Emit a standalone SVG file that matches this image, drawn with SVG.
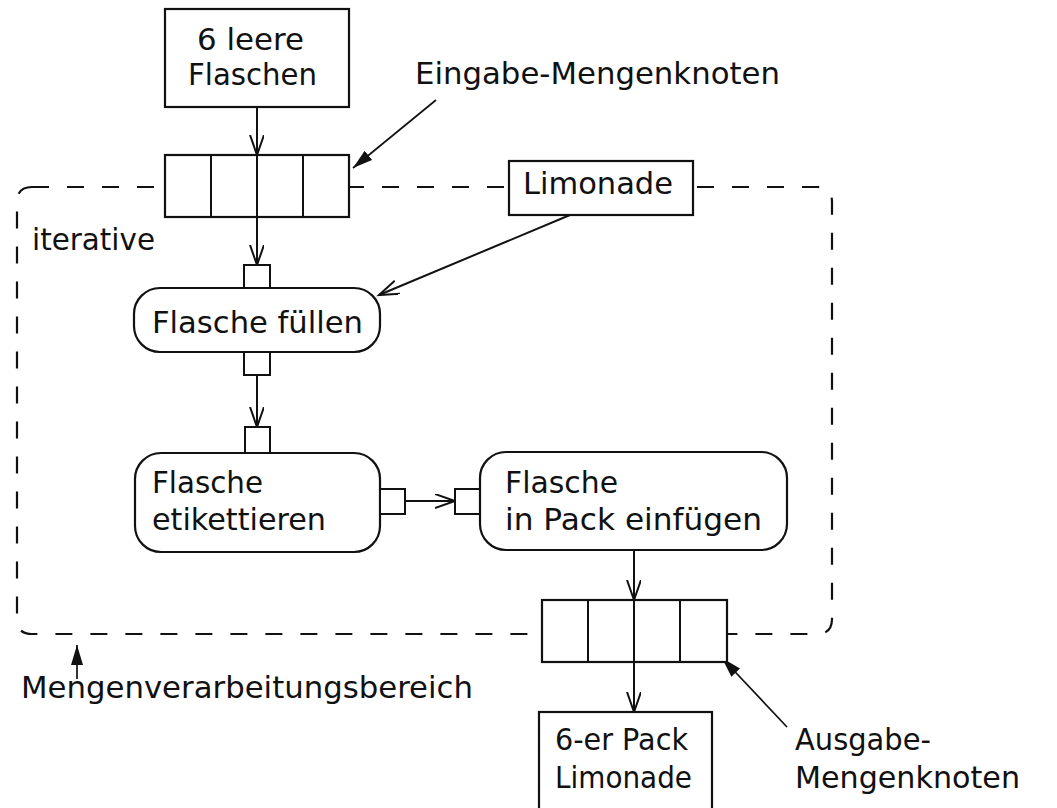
<svg xmlns="http://www.w3.org/2000/svg" width="1057" height="808" viewBox="0 0 1057 808">
  <style>
    text { font-family: "DejaVu Sans", "Liberation Sans", sans-serif; font-size: 31px; fill: #111; }
    .box { fill: #fff; stroke: #111; stroke-width: 2.2; }
    .pin { fill: #fff; stroke: #111; stroke-width: 2; }
    .div { stroke: #111; stroke-width: 2; }
    .flow { fill: none; stroke: #111; stroke-width: 2; marker-end: url(#open); }
    .note { fill: none; stroke: #111; stroke-width: 1.7; marker-end: url(#solid); }
    .region { fill: none; stroke: #111; stroke-width: 2.2; stroke-dasharray: 17 18; }
  </style>
  <defs>
    <marker id="open" markerUnits="userSpaceOnUse" markerWidth="24" markerHeight="16" refX="20" refY="7" orient="auto">
      <path d="M0,0 L20,7 L0,14" fill="none" stroke="#111" stroke-width="2"/>
    </marker>
    <marker id="solid" markerUnits="userSpaceOnUse" markerWidth="22" markerHeight="14" refX="20" refY="6" orient="auto">
      <path d="M0,0 L20,6 L0,12 Z" fill="#111"/>
    </marker>
  </defs>

  <!-- iterative expansion region -->
  <g id="region">
    <path class="region" d="M32,187 H817 Q832,187 832,202 V619 Q832,634 817,634 H32 Q17,634 17,619 V202 Q17,187 32,187 Z"/>
    <text x="32" y="250" textLength="123" lengthAdjust="spacingAndGlyphs">iterative</text>
  </g>

  <!-- connectors -->
  <g id="connectors">
    <path class="flow" d="M257,107 V155"/>
    <path class="flow" d="M257,155 V265"/>
    <path class="flow" d="M257,375 V427"/>
    <path class="flow" d="M405,501 H455"/>
    <path class="flow" d="M634,550 V600"/>
    <path class="flow" d="M634,600 V712"/>
    <path class="flow" d="M570,215 L379,295"/>
    <path class="note" d="M436,100 L353,168"/>
    <path class="note" d="M787,727 L722,658"/>
    <path class="note" d="M77,679 L77,645"/>
  </g>

  <g id="leere-flaschen">
    <rect class="box" x="165" y="9" width="184" height="98"/>
    <text x="197" y="50" textLength="107" lengthAdjust="spacingAndGlyphs">6 leere</text>
    <text x="188" y="85" textLength="129" lengthAdjust="spacingAndGlyphs">Flaschen</text>
  </g>

  <g id="eingabe-knoten">
    <rect class="box" x="165" y="155" width="184" height="62"/>
    <line class="div" x1="211" y1="155" x2="211" y2="217"/>
    <line class="div" x1="257" y1="155" x2="257" y2="217"/>
    <line class="div" x1="303" y1="155" x2="303" y2="217"/>
  </g>

  <g id="limonade">
    <rect class="box" x="509" y="161" width="184" height="54"/>
    <text x="523" y="194" textLength="150" lengthAdjust="spacingAndGlyphs">Limonade</text>
  </g>

  <g id="flasche-fuellen">
    <rect class="pin" x="244" y="265" width="26" height="23"/>
    <rect class="box" x="134" y="288" width="246" height="64" rx="26"/>
    <rect class="pin" x="244" y="352" width="26" height="23"/>
    <text x="152" y="333" textLength="211" lengthAdjust="spacingAndGlyphs">Flasche füllen</text>
  </g>

  <g id="flasche-etikettieren">
    <rect class="pin" x="245" y="427" width="25" height="26"/>
    <rect class="box" x="135" y="453" width="245" height="99" rx="26"/>
    <rect class="pin" x="380" y="489" width="25" height="25"/>
    <text x="152" y="493" textLength="111" lengthAdjust="spacingAndGlyphs">Flasche</text>
    <text x="152" y="530" textLength="174" lengthAdjust="spacingAndGlyphs">etikettieren</text>
  </g>

  <g id="flasche-einfuegen">
    <rect class="pin" x="455" y="489" width="25" height="25"/>
    <rect class="box" x="480" y="452" width="307" height="98" rx="26"/>
    <text x="505" y="493" textLength="113" lengthAdjust="spacingAndGlyphs">Flasche</text>
    <text x="505" y="530" textLength="257" lengthAdjust="spacingAndGlyphs">in Pack einfügen</text>
  </g>

  <g id="ausgabe-knoten">
    <rect class="box" x="542" y="600" width="185" height="62"/>
    <line class="div" x1="588" y1="600" x2="588" y2="662"/>
    <line class="div" x1="634" y1="600" x2="634" y2="662"/>
    <line class="div" x1="680" y1="600" x2="680" y2="662"/>
  </g>

  <g id="sechser-pack">
    <rect class="box" x="539" y="712" width="173" height="110"/>
    <text x="555" y="750" textLength="133" lengthAdjust="spacingAndGlyphs">6-er Pack</text>
    <text x="555" y="788" textLength="137" lengthAdjust="spacingAndGlyphs">Limonade</text>
  </g>

  <g id="labels">
    <text x="415" y="84" textLength="365" lengthAdjust="spacingAndGlyphs">Eingabe-Mengenknoten</text>
    <text x="795" y="750" textLength="136" lengthAdjust="spacingAndGlyphs">Ausgabe-</text>
    <text x="795" y="788" textLength="225" lengthAdjust="spacingAndGlyphs">Mengenknoten</text>
    <text x="21" y="698" textLength="452" lengthAdjust="spacingAndGlyphs">Mengenverarbeitungsbereich</text>
  </g>
</svg>
